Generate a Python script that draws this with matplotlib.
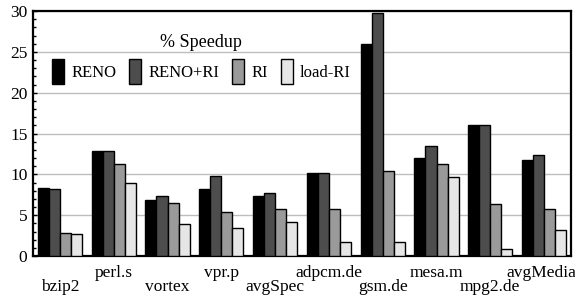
import matplotlib.pyplot as plt
import numpy as np
from matplotlib.ticker import MultipleLocator

plt.rcParams['font.family'] = ['Liberation Serif', 'DejaVu Serif']

benchmarks = ['bzip2', 'perl.s', 'vortex', 'vpr.p', 'avgSpec',
              'adpcm.de', 'gsm.de', 'mesa.m', 'mpg2.de', 'avgMedia']
reno = [8.3, 12.9, 6.8, 8.2, 7.4, 10.2, 25.9, 12.0, 16.0, 11.7]
reno_ri = [8.2, 12.9, 7.3, 9.8, 7.7, 10.2, 29.8, 13.5, 16.1, 12.4]
ri = [2.8, 11.3, 6.5, 5.4, 5.7, 5.8, 10.4, 11.3, 6.4, 5.7]
load_ri = [2.7, 9.0, 3.9, 3.4, 4.2, 1.7, 1.7, 9.7, 0.8, 3.2]

series = [('RENO', reno, '#000000'),
          ('RENO+RI', reno_ri, '#4d4d4d'),
          ('RI', ri, '#9a9a9a'),
          ('load-RI', load_ri, '#e6e6e6')]

fs = 12.5
fig = plt.figure(figsize=(5.75, 2.99), dpi=100)
ax = fig.add_axes([33/575, 43/299, 538/575, 245/299])

x = np.arange(len(benchmarks))
w = 0.205
for i, (name, vals, col) in enumerate(series):
    ax.bar(x + (i - 1.5)*w, vals, w, color=col, edgecolor='black',
           linewidth=1.0, label=name, zorder=3)

ax.set_xlim(-0.5, len(benchmarks) - 0.5)
ax.set_ylim(0, 30)
ax.yaxis.set_major_locator(MultipleLocator(5))
ax.yaxis.set_minor_locator(MultipleLocator(1))
ax.grid(axis='y', color='#bdbdbd', linewidth=1.0, zorder=0)
ax.tick_params(axis='y', which='both', direction='in', labelsize=fs,
               length=3, width=1, pad=4)
ax.tick_params(axis='y', which='minor', length=2)
ax.set_xticks([])
for s in ax.spines.values():
    s.set_linewidth(1.6)

# staggered category labels (last one nudged so it stays inside the figure)
for i, b in enumerate(benchmarks):
    yoff = -0.092 if i % 2 == 0 else -0.035
    xpos = x[i] - 0.06 if i == len(benchmarks) - 1 else x[i]
    ax.text(xpos, yoff, b, transform=ax.get_xaxis_transform(),
            ha='center', va='top', fontsize=fs)

leg = ax.legend(title='% Speedup', ncol=4, frameon=False, fontsize=12,
                title_fontsize=13, handlelength=0.72, handleheight=1.9,
                columnspacing=0.78, handletextpad=0.42, borderpad=0.2,
                loc='upper left', bbox_to_anchor=(0.014, 0.955))

fig.savefig('out.png', dpi=100)
